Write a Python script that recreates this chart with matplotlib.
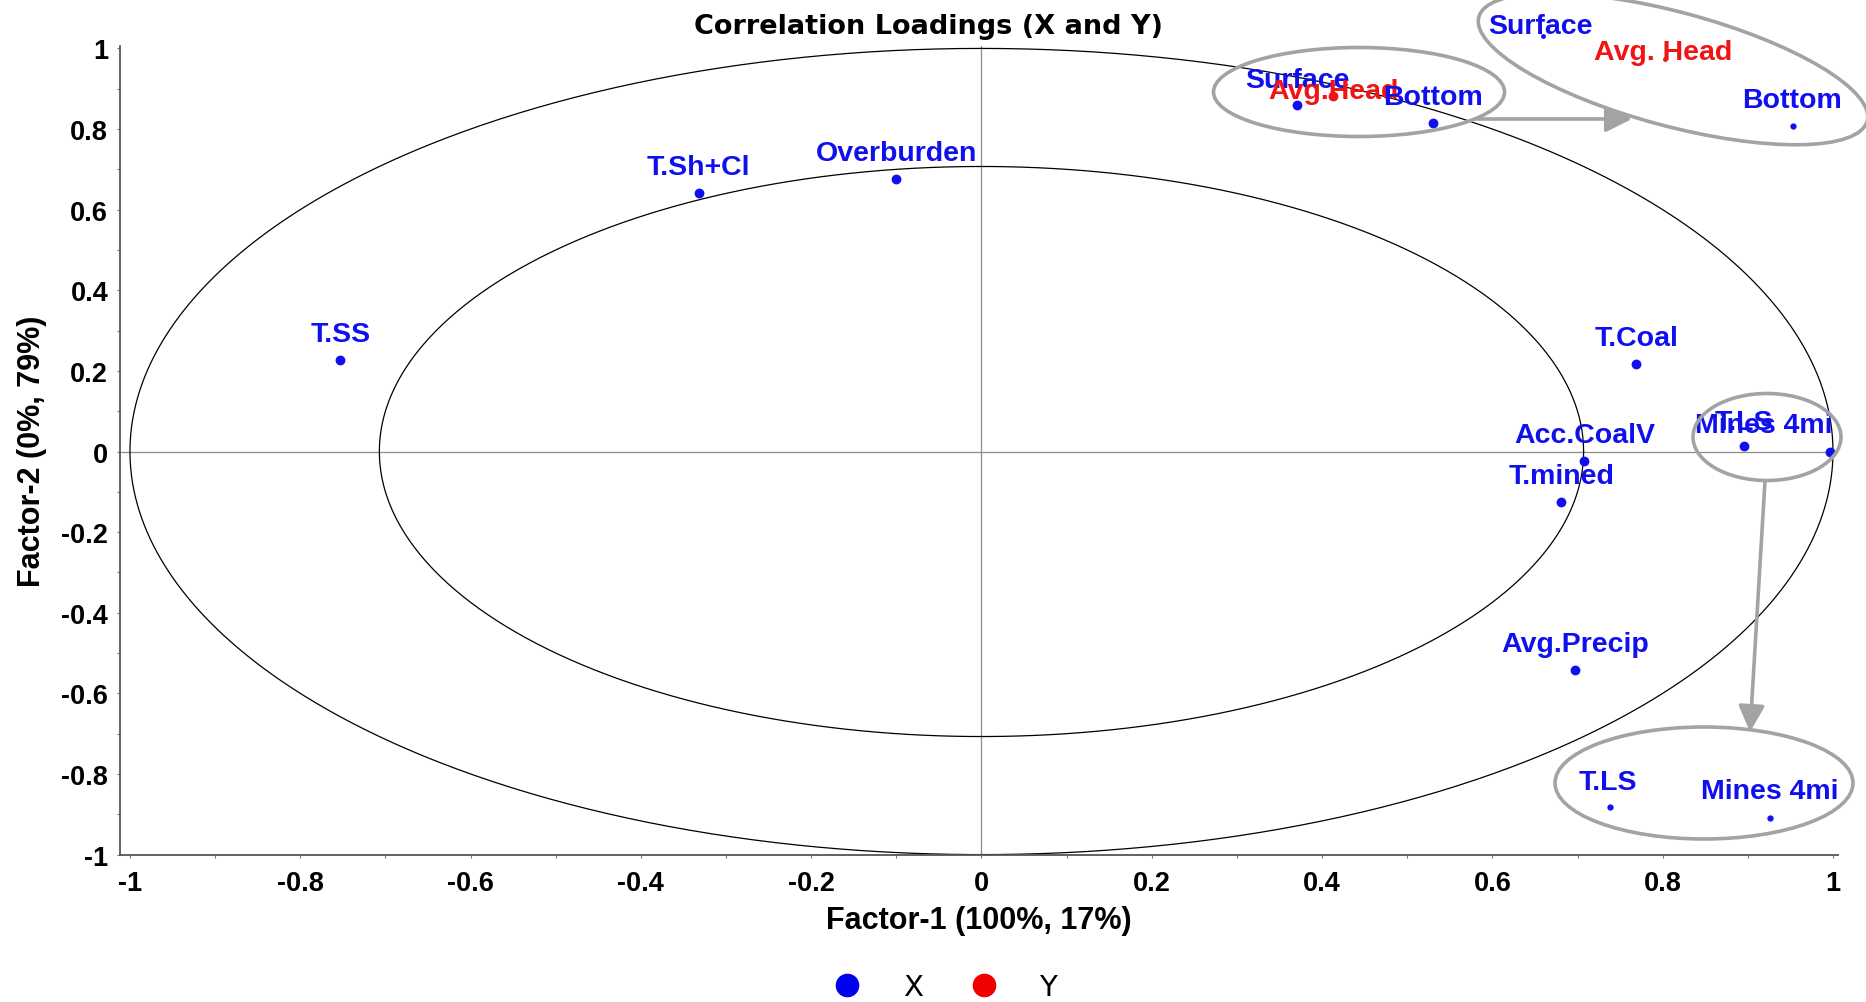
import matplotlib
matplotlib.use("Agg")
import matplotlib.pyplot as plt
import matplotlib.transforms as mtransforms
from matplotlib.patches import Ellipse, FancyArrowPatch
from matplotlib.lines import Line2D
import numpy as np

# ---- loadings -------------------------------------------------------------
x_names = ["T.SS", "T.Sh+Cl", "Overburden", "Surface", "Bottom", "T.Coal",
           "Acc.CoalV", "T.mined", "T.LS", "Mines 4mi", "Avg.Precip"]
x_factor1 = [-0.753, -0.332, -0.100, 0.371, 0.530, 0.769,
             0.708, 0.681, 0.895, 0.997, 0.697]
x_factor2 = [0.228, 0.642, 0.675, 0.860, 0.816, 0.217,
             -0.024, -0.125, 0.014, 0.000, -0.542]

y_names = ["Avg.Head"]
y_factor1 = [0.413]
y_factor2 = [0.881]

tick_values = [-1, -0.8, -0.6, -0.4, -0.2, 0, 0.2, 0.4, 0.6, 0.8, 1]
tick_labels = ["-1", "-0.8", "-0.6", "-0.4", "-0.2", "0",
               "0.2", "0.4", "0.6", "0.8", "1"]

# explained variance shown in the axis titles
xlabel_text = "Factor-1 (100%, 17%)"
ylabel_text = "Factor-2 (0%, 79%)"

BLUE = "#1010ee"
RED = "#f01414"
GRAY = "#a3a3a3"
LABEL_SIZE = 20.5

plt.rcParams["font.family"] = ["Liberation Sans", "DejaVu Sans"]

W, H = 1866, 1003
fig = plt.figure(figsize=(W / 100, H / 100), dpi=100)
ax = fig.add_axes([120 / W, 1 - 856 / H, (1838 - 120) / W, (856 - 47) / H])

# pixel coordinates measured from the top-left corner of the figure
px = mtransforms.Affine2D().scale(1 / W, -1 / H).translate(0, 1) + fig.transFigure

ax.set_xlim(-1.0117, 1.0059)
ax.set_ylim(-1.001, 1.006)

for side in ("top", "right"):
    ax.spines[side].set_visible(False)
for side in ("left", "bottom"):
    ax.spines[side].set_color("#555555")
    ax.spines[side].set_linewidth(1.3)

ax.set_xticks(tick_values)
ax.set_xticklabels(tick_labels)
ax.set_yticks(tick_values)
ax.set_yticklabels(tick_labels)
ax.set_xticks(np.round(np.arange(-0.9, 1.0, 0.2), 1), minor=True)
ax.set_yticks(np.round(np.arange(-0.9, 1.0, 0.2), 1), minor=True)
ax.tick_params(which="both", direction="out", length=2.5, width=0.8,
               color="#777777")
ax.tick_params(axis="y", which="major", labelsize=19.5, pad=6)
ax.tick_params(axis="x", which="major", labelsize=19.5, pad=8)
for lab in ax.get_xticklabels() + ax.get_yticklabels():
    lab.set_fontweight("bold")

ax.set_xlabel(xlabel_text, fontsize=22, fontweight="bold", labelpad=7)
ax.set_ylabel(ylabel_text, fontsize=22, fontweight="bold", labelpad=10)

fig.text(928 / W, 1 - 27 / H, "Correlation Loadings (X and Y)",
         ha="center", va="center", fontsize=19.5, fontweight="bold",
         family="DejaVu Sans")

# origin cross-hair
ax.axhline(0, color="#8c8c8c", lw=0.9, zorder=1)
ax.axvline(0, color="#8c8c8c", lw=0.9, zorder=1)

# 100% and 50% explained-variance ellipses
theta = np.linspace(0, 2 * np.pi, 721)
for r in (1.0, np.sqrt(0.5)):
    ax.plot(r * np.cos(theta), r * np.sin(theta), color="black", lw=0.9,
            zorder=2)

# points
ax.scatter(x_factor1, x_factor2, s=50, color=BLUE, zorder=4, linewidths=0)
ax.scatter(y_factor1, y_factor2, s=50, color=RED, zorder=4, linewidths=0)

# label placement (pixel offsets from the point, horizontal alignment)
default_offset = (0, 19, "center")
label_offsets = {
    "Surface": (0, 18, "center"),
    "Avg.Head": (0, -2, "center"),
    "Bottom": (0, 19, "center"),
    "Mines 4mi": (2, 20, "right"),
    "T.LS": (0, 17, "center"),
}
label_z = {"Surface": 5, "Avg.Head": 6, "Bottom": 7}

for name, fx, fy in zip(x_names, x_factor1, x_factor2):
    dx, dy, ha = label_offsets.get(name, default_offset)
    ax.annotate(name, (fx, fy), xytext=(dx, dy), textcoords="offset pixels",
                ha=ha, va="baseline", color=BLUE, fontsize=LABEL_SIZE,
                fontweight="bold", zorder=label_z.get(name, 5))
for name, fx, fy in zip(y_names, y_factor1, y_factor2):
    dx, dy, ha = label_offsets.get(name, default_offset)
    ax.annotate(name, (fx, fy), xytext=(dx, dy), textcoords="offset pixels",
                ha=ha, va="baseline", color=RED, fontsize=LABEL_SIZE,
                fontweight="bold", zorder=label_z.get(name, 6))

# ---- call-outs magnifying the crowded groups -----------------------------
def ring(cx, cy, w, h, angle=0):
    fig.add_artist(Ellipse((cx, cy), w, h, angle=angle, transform=px,
                           fill=False, edgecolor=GRAY, lw=2.6, zorder=10,
                           clip_on=False))

def arrow(x0, y0, x1, y1):
    fig.add_artist(FancyArrowPatch((x0, y0), (x1, y1), transform=px,
                                   arrowstyle="-|>,head_length=10,head_width=5",
                                   mutation_scale=1.6, color=GRAY, lw=2.6,
                                   zorder=10, clip_on=False,
                                   shrinkA=0, shrinkB=0))

def tag(x, y, text, color):
    fig.text(x / W, 1 - y / H, text, ha="center", va="baseline",
             color=color, fontsize=LABEL_SIZE, fontweight="bold", zorder=11)

def dot(x, y, color, size=3.5):
    fig.add_artist(Line2D([x], [y], transform=px, marker="o", ls="",
                          ms=size, color=color, zorder=11))

# top group: Surface / Avg.Head / Bottom
ring(1359, 93, 291, 89)
arrow(1476, 120, 1632, 120)
ring(1673, 70, 402, 114, angle=15)
tag(1540, 34, "Surface", BLUE)
tag(1663, 60, "Avg. Head", RED)
tag(1792, 108, "Bottom", BLUE)
dot(1543, 37, BLUE, 2.5)
dot(1665, 60, RED, 2.5)
dot(1793, 127, BLUE, 3.5)

# right group: T.LS / Mines 4mi
ring(1767, 438, 148, 87)
arrow(1765, 482, 1750, 733)
ring(1704, 784, 298, 112)
tag(1608, 790, "T.LS", BLUE)
tag(1770, 799, "Mines 4mi", BLUE)
dot(1610, 808, BLUE, 3.5)
dot(1770, 819, BLUE, 3.5)

# ---- legend ----------------------------------------------------------------
handles = [
    Line2D([], [], marker="o", ls="", ms=16, color="#0000f0", label="X"),
    Line2D([], [], marker="o", ls="", ms=16, color="#f00000", label="Y"),
]
leg = fig.legend(handles=handles, loc="center", ncol=2, frameon=False,
                 bbox_to_anchor=(945 / W, 1 - 988 / H),
                 handlelength=1.0, handletextpad=1.4, columnspacing=1.6,
                 prop={"family": "DejaVu Sans", "size": 21})

fig.savefig("out.png", dpi=100)
